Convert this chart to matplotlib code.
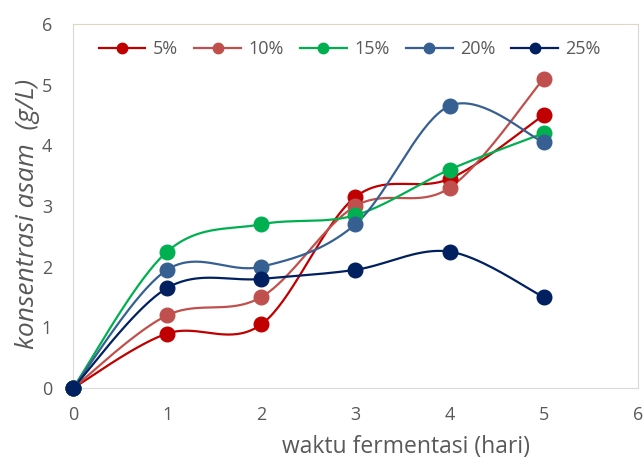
import numpy as np
import matplotlib.pyplot as plt

# data
hari = [0, 1, 2, 3, 4, 5]
labels = ['5%', '10%', '15%', '20%', '25%']
y_5 = [0, 0.9, 1.05, 3.15, 3.45, 4.5]
y_10 = [0, 1.2, 1.5, 3.0, 3.3, 5.1]
y_15 = [0, 2.25, 2.7, 2.85, 3.6, 4.2]
y_20 = [0, 1.95, 2.0, 2.7, 4.65, 4.05]
y_25 = [0, 1.65, 1.8, 1.95, 2.25, 1.5]
colors = ['#C00000', '#C0504D', '#00B050', '#376092', '#002060']


def smooth(x, y, n=40):
    # excel-like smoothing (catmull-rom as bezier)
    p = np.column_stack([x, y]).astype(float)
    p = np.vstack([p[0], p, p[-1]])
    out = []
    for i in range(1, len(p) - 2):
        p0, p3 = p[i], p[i + 1]
        c1 = p0 + (p[i + 1] - p[i - 1]) / 6
        c2 = p3 - (p[i + 2] - p[i]) / 6
        t = np.linspace(0, 1, n)[:, None]
        seg = (1 - t)**3 * p0 + 3 * (1 - t)**2 * t * c1 + 3 * (1 - t) * t**2 * c2 + t**3 * p3
        out.append(seg)
    out = np.vstack(out)
    return out[:, 0], out[:, 1]


plt.rcParams['font.family'] = ['Open Sans', 'DejaVu Sans']
fig = plt.figure(figsize=(6.43, 4.61), dpi=100)
ax = fig.add_axes([0.1135, 0.158, 0.8785, 0.79])

for ys, lab, c in zip([y_5, y_10, y_15, y_20, y_25], labels, colors):
    sx, sy = smooth(hari, ys)
    ax.plot(sx, sy, color=c, lw=1.6, clip_on=False)
    ax.plot(hari, ys, 'o', color=c, ms=10.5, clip_on=False, zorder=3)
    ax.plot([], [], '-o', color=c, lw=1.6, ms=7.5, label=lab)

ax.set_xlim(0, 6)
ax.set_ylim(0, 6)
ax.set_xticks(range(7))
ax.set_yticks(range(7))
ax.tick_params(length=0, labelsize=13, labelcolor='#595959')
ax.tick_params(axis='x', pad=13)
ax.tick_params(axis='y', pad=15)
for s in ax.spines.values():
    s.set_color('#D9D9D9')
ax.spines['top'].set_color('#DDD9C4')

ax.set_xlabel('waktu fermentasi (hari)', fontsize=16.5, color='#595959')
ax.xaxis.set_label_coords(0.59, -0.128)
ax.set_ylabel('konsentrasi asam  (g/L)', fontsize=19, color='#595959', style='italic')
ax.yaxis.set_label_coords(-0.058, 0.478)

ax.legend(loc='upper center', bbox_to_anchor=(0.49, 1.0), ncol=5, frameon=False,
          fontsize=13, labelcolor='#595959', handlelength=2.6, handletextpad=0.4,
          columnspacing=0.9)

plt.savefig('out.png')
